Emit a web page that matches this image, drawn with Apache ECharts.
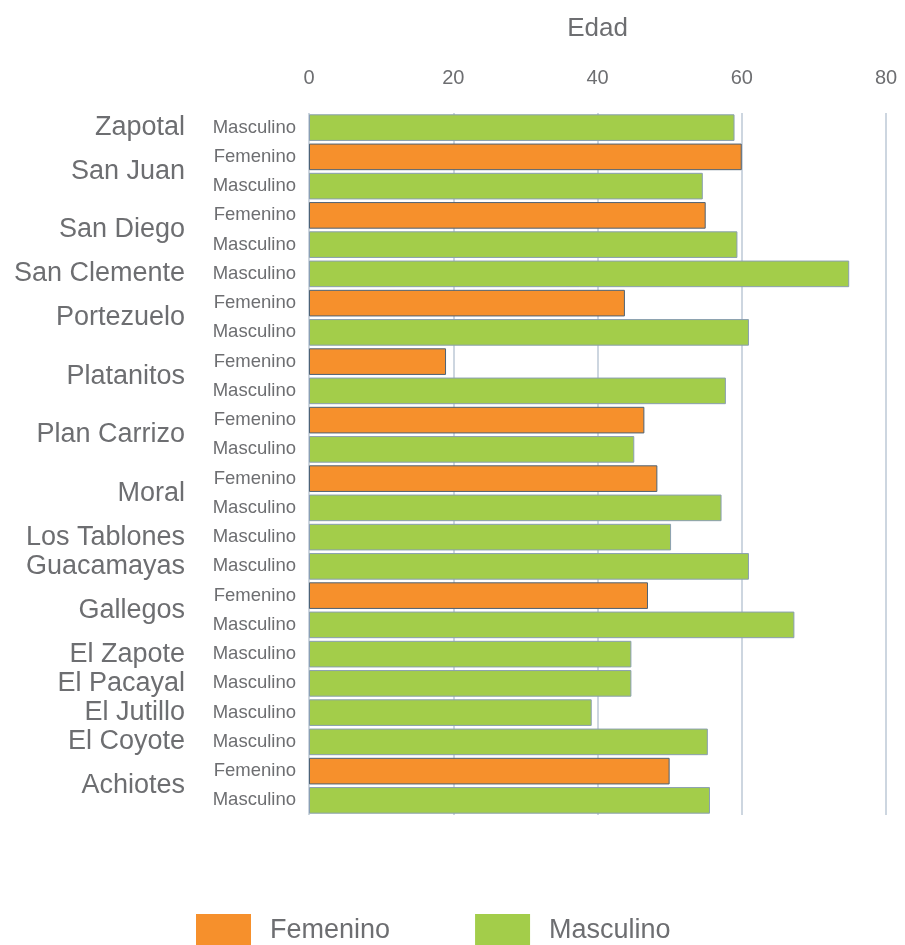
<!DOCTYPE html>
<html>
<head>
<meta charset="utf-8">
<style>
  html, body { margin: 0; padding: 0; background: #fff; }
  #chart { width: 905px; height: 945px; }
</style>
<script src="https://cdn.jsdelivr.net/npm/echarts@6/dist/echarts.min.js"></script>
</head>
<body>
<div id="chart"></div>
<script>
// places top to bottom, with Femenino / Masculino ages (null = no data)
const places = ['Zapotal', 'San Juan', 'San Diego', 'San Clemente', 'Portezuelo', 'Platanitos',
  'Plan Carrizo', 'Moral', 'Los Tablones', 'Guacamayas', 'Gallegos', 'El Zapote', 'El Pacayal',
  'El Jutillo', 'El Coyote', 'Achiotes']
const femenino = [null, 60.0, 55.0, null, 43.8, 19.0, 46.5, 48.3, null, null, 47.0, null, null, null, null, 50.0]
const masculino = [59.0, 54.6, 59.4, 74.9, 61.0, 57.8, 45.1, 57.2, 50.2, 61.0, 67.3, 44.7, 44.7, 39.2, 55.3, 55.6]
const xTicks = { min: 0, max: 80, interval: 20 }

const textColor = '#6d6e71'
const font = 'Liberation Sans, Arial, Helvetica, sans-serif'

// one row per bar, plus a half-step label axis for the place names
const rows = []; const femData = []; const mascData = []
const placeSlots = []
places.forEach((p, i) => {
  const start = rows.length
  if (femenino[i] !== null) {
    rows.push('Femenino'); femData.push(femenino[i]); mascData.push(null)
  }
  rows.push('Masculino'); femData.push(null); mascData.push(masculino[i])
  placeSlots.push({ slot: 2 * start + (rows.length - start), name: p })
})
const placeAxis = new Array(rows.length * 2 + 1).fill('')
placeSlots.forEach(s => { placeAxis[s.slot] = s.name })

const chart = echarts.init(document.getElementById('chart'))
chart.setOption({
  animation: false,
  textStyle: { fontFamily: font },
  grid: { left: 309, right: 19, top: 113, bottom: 130 },
  xAxis: {
    type: 'value',
    position: 'top',
    min: xTicks.min,
    max: xTicks.max,
    interval: xTicks.interval,
    name: 'Edad',
    nameLocation: 'middle',
    nameGap: 71,
    nameTextStyle: { color: textColor, fontSize: 26, fontFamily: font },
    axisLine: { show: false },
    axisTick: { show: false },
    axisLabel: { color: textColor, fontSize: 20, margin: 25, fontFamily: font },
    splitLine: { show: true, lineStyle: { color: '#cdd6e0', width: 2 } }
  },
  yAxis: [
    {
      type: 'category',
      data: rows,
      inverse: true,
      axisLine: { show: false },
      axisTick: { show: false },
      axisLabel: { color: textColor, fontSize: 18.5, margin: 13, fontFamily: font }
    },
    {
      type: 'category',
      data: placeAxis,
      inverse: true,
      boundaryGap: false,
      position: 'left',
      offset: 0,
      axisLine: { show: false },
      axisTick: { show: false },
      splitLine: { show: false },
      axisLabel: { color: textColor, fontSize: 27, margin: 124, interval: 0, hideOverlap: false, fontFamily: font }
    }
  ],
  legend: {
    left: 196,
    top: 914,
    padding: 0,
    itemWidth: 55,
    itemHeight: 34,
    itemGap: 85,
    icon: 'rect',
    itemStyle: { borderWidth: 0 },
    textStyle: { color: textColor, fontSize: 27, fontFamily: font, padding: [0, 0, 6, 14] },
    data: ['Femenino', 'Masculino']
  },
  series: [
    {
      name: 'Femenino',
      type: 'bar',
      stack: 'edad',
      barCategoryGap: '9%',
      data: femData,
      itemStyle: { color: '#f6902c', borderColor: '#4d6275', borderWidth: 1 }
    },
    {
      name: 'Masculino',
      type: 'bar',
      stack: 'edad',
      barCategoryGap: '9%',
      data: mascData,
      itemStyle: { color: '#a3cd4a', borderColor: '#8a9fb2', borderWidth: 1 }
    }
  ]
})
</script>
</body>
</html>
